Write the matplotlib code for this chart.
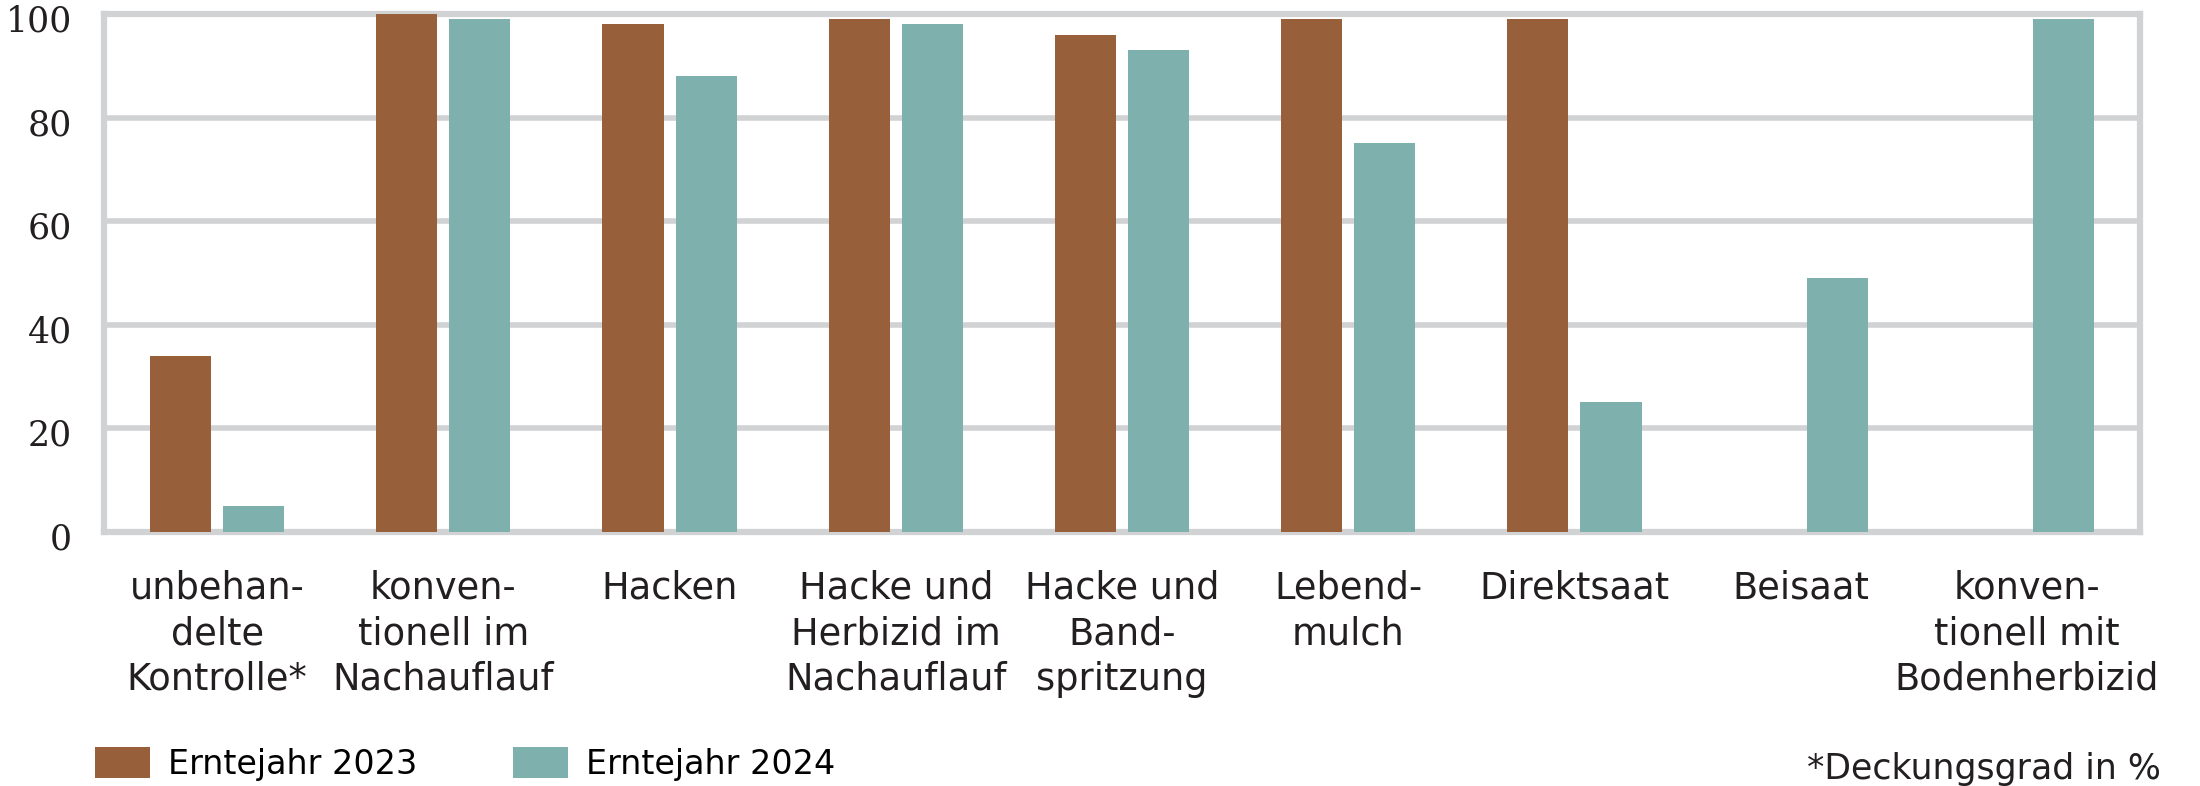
import matplotlib
matplotlib.use("Agg")
import matplotlib.pyplot as plt
import numpy as np
from matplotlib.patches import Patch
from matplotlib.transforms import ScaledTranslation

# data
kategorien = ["unbehan-\ndelte\nKontrolle*", "konven-\ntionell im\nNachauflauf", "Hacken",
              "Hacke und\nHerbizid im\nNachauflauf", "Hacke und\nBand-\nspritzung",
              "Lebend-\nmulch", "Direktsaat", "Beisaat", "konven-\ntionell mit\nBodenherbizid"]
jahr_2023 = [34, 100, 98, 99, 96, 99, 99, np.nan, np.nan]
jahr_2024 = [5, 99, 88, 98, 93, 75, 25, 49, 99]
serien = ["Erntejahr 2023", "Erntejahr 2024"]
yticks = [0, 20, 40, 60, 80, 100]

braun = "#98603A"
tuerkis = "#7EB0AE"
grau = "#D1D2D4"
textfarbe = "#231F20"
lab_font = ["DejaVu Sans"]
num_font = ["DejaVu Serif"]

fig = plt.figure(figsize=(22, 7.86), dpi=100)
ax = fig.add_axes([0.0473, 0.3232, 0.9255, 0.659])

x = np.arange(len(kategorien))
w = 0.27
ax.bar(x - 0.162, jahr_2023, w, color=braun, zorder=3)
ax.bar(x + 0.161, jahr_2024, w, color=tuerkis, zorder=3)

ax.set_xlim(-0.5, len(kategorien) - 0.5)
ax.set_ylim(0, 100)
ax.set_yticks(yticks)
ax.set_yticklabels([str(t) for t in yticks], family=num_font, fontsize=25, color=textfarbe)
ax.set_xticks(x)
ax.set_xticklabels(kategorien, family=lab_font, fontsize=26.5, color=textfarbe,
                   va="top", ha="center", linespacing=1.3)
ax.tick_params(axis="both", length=0)
ax.tick_params(axis="x", pad=27)
ax.tick_params(axis="y", pad=23)
# Zahlen sitzen im Original etwas unter der Gitterlinie
for lab in ax.get_yticklabels():
    lab.set_transform(lab.get_transform() + ScaledTranslation(0, -0.04, fig.dpi_scale_trans))

ax.yaxis.grid(True, color=grau, lw=4)
ax.set_axisbelow(True)
for s in ax.spines.values():
    s.set_color(grau)
    s.set_linewidth(4.5)

handles = [Patch(facecolor=braun), Patch(facecolor=tuerkis)]
fig.legend(handles, serien, loc="lower left", bbox_to_anchor=(0.034, -0.019), ncol=2,
           frameon=False, prop={"family": lab_font, "size": 24}, borderpad=0.1,
           handlelength=1.65, handleheight=1.06, handletextpad=0.56, columnspacing=2.85)

fig.text(0.982, 0.009, "*Deckungsgrad in %", ha="right", va="baseline",
         family=lab_font, fontsize=25, color=textfarbe)

fig.savefig("out.png", dpi=100, facecolor="white")
